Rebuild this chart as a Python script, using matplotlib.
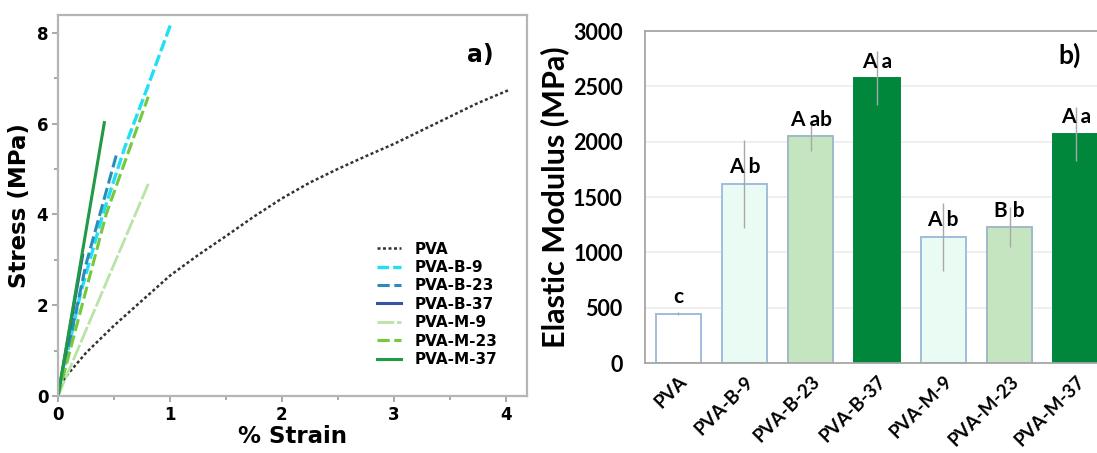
import numpy as np
import matplotlib
matplotlib.use("Agg")
import matplotlib.pyplot as plt
from matplotlib.ticker import MultipleLocator

# ---------------- data: stress-strain curves (panel a) ----------------
strain_pva = [0.0, 0.06, 0.25, 0.5, 0.75, 1.0, 1.25, 1.5, 1.75, 2.0, 2.25, 2.5,
              2.75, 3.0, 3.25, 3.5, 3.75, 4.04]
stress_pva = [0.0, 0.40, 0.95, 1.55, 2.10, 2.65, 3.10, 3.52, 3.95, 4.35, 4.70, 5.00,
              5.28, 5.55, 5.85, 6.15, 6.45, 6.75]

strain_b9 = [0.0, 0.2, 0.4, 0.6, 0.8, 1.015]
stress_b9 = [0.0, 2.25, 4.0, 5.5, 6.8, 8.24]

strain_b23 = [0.0, 0.25, 0.524]
stress_b23 = [0.0, 2.9, 5.33]

strain_b37 = [0.0, 0.22]
stress_b37 = [0.0, 3.1]

strain_m9 = [0.0, 0.815]
stress_m9 = [0.0, 4.72]

strain_m23 = [0.0, 0.43, 0.806]
stress_m23 = [0.0, 4.0, 6.59]

strain_m37 = [0.0, 0.414]
stress_m37 = [0.0, 6.02]

# ---------------- data: elastic modulus (panel b) ----------------
samples = ["PVA", "PVA-B-9", "PVA-B-23", "PVA-B-37", "PVA-M-9", "PVA-M-23", "PVA-M-37"]
modulus = [446, 1619, 2047, 2572, 1140, 1227, 2069]
modulus_err = [15, 400, 130, 243, 310, 180, 240]
letters = ["c", "A b", "A ab", "A a", "A b", "B b", "A a"]

fig = plt.figure(figsize=(10.97, 4.53), dpi=100)

####################### a) stress-strain #######################
ax = fig.add_axes([58/1097, 57/453, 469/1097, 381/453])

ax.plot(strain_pva, stress_pva, color="#333333", linestyle=(0, (1.2, 1.0)), lw=1.8, label="PVA")
ax.plot(strain_b9, stress_b9, color="#22dff5", linestyle=(0, (3.5, 1.2)), lw=2.4, label="PVA-B-9")
ax.plot(strain_b23, stress_b23, color="#2b8cb8", linestyle=(0, (4, 1.5)), lw=2.2, label="PVA-B-23")
ax.plot(strain_b37, stress_b37, color="#3553a8", linestyle="-", lw=2.2, label="PVA-B-37")
ax.plot(strain_m9, stress_m9, color="#b8e4a8", linestyle=(0, (6, 1.0)), lw=2.0, label="PVA-M-9")
ax.plot(strain_m23, stress_m23, color="#74c93c", linestyle=(0, (4, 1.5)), lw=2.2, label="PVA-M-23")
ax.plot(strain_m37, stress_m37, color="#1f9a45", linestyle="-", lw=2.2, label="PVA-M-37")

ax.set_xlim(0, 4.19)
ax.set_ylim(0, 8.39)
ax.xaxis.set_major_locator(MultipleLocator(1))
ax.xaxis.set_minor_locator(MultipleLocator(0.5))
ax.yaxis.set_major_locator(MultipleLocator(2))
ax.yaxis.set_minor_locator(MultipleLocator(1))
ax.tick_params(which="both", direction="out", color="#999999", width=1.2)
ax.tick_params(which="major", length=4, labelsize=12, pad=3)
ax.tick_params(which="minor", length=3)
for lab in ax.get_xticklabels() + ax.get_yticklabels():
    lab.set_fontweight("bold")
for sp in ax.spines.values():
    sp.set_color("#b5b5b5")
    sp.set_linewidth(1.6)

ax.set_xlabel("% Strain", fontsize=16.5, fontweight="bold", labelpad=1)
ax.set_ylabel("Stress (MPa)", fontsize=16.5, fontweight="bold", labelpad=4)
ax.text(0.90, 0.895, "a)", transform=ax.transAxes, fontsize=17, fontweight="bold", ha="center", va="center")

leg = ax.legend(loc="upper left", bbox_to_anchor=(0.68, 0.405), frameon=False,
                prop={"weight": "bold", "size": 11}, handlelength=1.6,
                labelspacing=0.22, handletextpad=0.85, borderpad=0, borderaxespad=0)

####################### b) elastic modulus #######################
bx = fig.add_axes([645/1097, 90/453, 464/1097, 332/453])

faces = ["#ffffff", "#eafbf4", "#c5e5c0", "#00873c", "#eafbf4", "#c5e5c0", "#00873c"]
edges = ["#9fbddc", "#9fbddc", "#9fb9c9", "#00873c", "#9fbddc", "#9fb9c9", "#00873c"]
xpos = np.arange(len(samples))

bx.yaxis.grid(True, color="#ececec", lw=1.2)
bx.set_axisbelow(True)
bx.bar(xpos, modulus, width=0.68, color=faces, edgecolor=edges, linewidth=1.4)
bx.errorbar(xpos, modulus, yerr=modulus_err, fmt="none", ecolor="#a8a8a8", elinewidth=1.0, capsize=0)

for i in range(len(samples)):
    bx.text(xpos[i], modulus[i] + 150, letters[i], ha="center", va="center",
            fontsize=15, fontweight="bold", family="Lato")

bx.set_xlim(-0.5, 6.5)
bx.set_ylim(0, 3000)
bx.set_yticks(np.arange(0, 3001, 500))
bx.set_xticks(xpos)
bx.set_xticklabels(samples, rotation=45, ha="right", rotation_mode="anchor",
                   fontsize=13.5, fontweight="bold", family="Lato")
for lab in bx.get_yticklabels():
    lab.set_fontweight("bold")
    lab.set_family("Lato")
bx.tick_params(axis="y", length=0, labelsize=15.5, pad=16)
bx.tick_params(axis="x", length=0, pad=7)
for sp in bx.spines.values():
    sp.set_color("#a6a6a6")
    sp.set_linewidth(1.3)

bx.set_ylabel("Elastic Modulus (MPa)", fontsize=22, fontweight="bold", family="Lato", labelpad=3)
bx.text(0.916, 0.928, "b)", transform=bx.transAxes, fontsize=19, fontweight="bold", family="Lato",
        ha="center", va="center")

fig.savefig("out.png", dpi=100)
